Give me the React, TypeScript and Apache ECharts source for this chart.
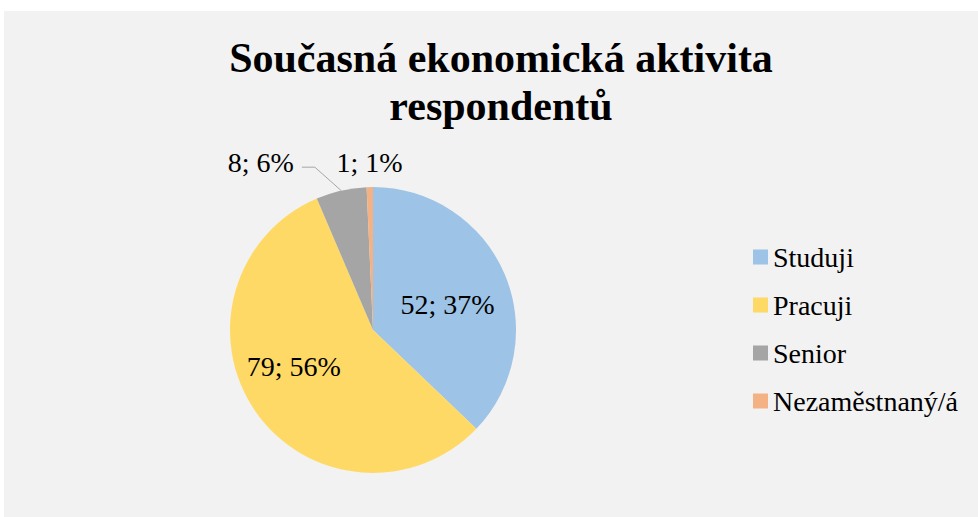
import React, { useEffect, useRef } from "react";
import * as echarts from "echarts";

const titleLines = ["Současná ekonomická aktivita", "respondentů"];
const categories = ["Studuji", "Pracuji", "Senior", "Nezaměstnaný/á"];
const values = [52, 79, 8, 1];
const colors = ["#9DC3E6", "#FFD966", "#A5A5A5", "#F4B183"];

const FONT = "Liberation Serif";

export default function App() {
  const ref = useRef<HTMLDivElement>(null);

  useEffect(() => {
    if (!ref.current) return;
    const chart = echarts.init(ref.current, undefined, { renderer: "svg" });

    const labelCfg: any[] = [
      { position: "inside", offset: [6, 4] },
      { position: "inside", offset: [-18, -6] },
      { position: "outside" },
      { position: "outside" },
    ];
    const lineCfg: any[] = [
      { show: false },
      { show: false },
      { show: true, length: 24, length2: 34, lineStyle: { color: "#A6A6A6", width: 1 } },
      { show: false, length: 12, length2: 0 },
    ];

    const data = categories.map((name, i) => ({
      name,
      value: values[i],
      itemStyle: { color: colors[i] },
      label: labelCfg[i],
      labelLine: lineCfg[i],
    }));

    chart.setOption({
      animation: false,
      backgroundColor: "#F2F2F2",
      textStyle: { fontFamily: FONT },
      graphic: titleLines.map((t, i) => ({
        type: "text",
        x: 497,
        y: 47 + i * 48,
        silent: true,
        style: {
          text: t,
          fontFamily: FONT,
          fontSize: 42,
          fontWeight: "bold",
          fill: "#000000",
          align: "center",
          verticalAlign: "middle",
        },
      })),
      legend: {
        orient: "vertical",
        left: 744,
        top: 227,
        itemWidth: 15,
        itemHeight: 15,
        itemGap: 20,
        icon: "rect",
        data: categories,
        textStyle: {
          fontFamily: FONT,
          fontSize: 28,
          color: "#000000",
        },
      },
      series: [
        {
          type: "pie",
          center: [369, 319],
          radius: 143,
          startAngle: 90,
          clockwise: true,
          avoidLabelOverlap: false,
          percentPrecision: 0,
          label: {
            formatter: "{c}; {d}%",
            fontFamily: FONT,
            fontSize: 28,
            color: "#000000",
            distanceToLabelLine: 8,
          },
          labelLayout: (params: any) => {
            if (params.dataIndex === 3) {
              return { align: "center", dx: 8, dy: -13 };
            }
            if (params.dataIndex === 2) {
              const pts = params.labelLinePoints;
              if (pts && pts.length === 3) {
                return {
                  dy: -5,
                  labelLinePoints: [pts[0], [pts[2][0] + 13, pts[2][1]], pts[2]],
                };
              }
              return { dy: -5 };
            }
            return {};
          },
          emphasis: { disabled: true },
          data,
        },
      ],
    });

    return () => chart.dispose();
  }, []);

  return (
    <div
      style={{
        position: "absolute",
        left: 0,
        top: 0,
        width: 978,
        height: 517,
        background: "#FFFFFF",
      }}
    >
      <div
        ref={ref}
        style={{ position: "absolute", left: 4, top: 11, width: 974, height: 506 }}
      />
    </div>
  );
}
